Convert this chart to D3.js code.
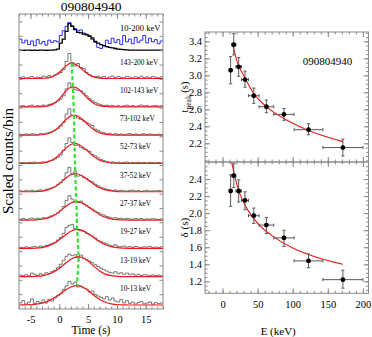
<!DOCTYPE html>
<html><head><meta charset="utf-8">
<script src="https://cdn.jsdelivr.net/npm/d3@7"></script>
<style>
body{margin:0;background:#fff}
svg{display:block}
text{font-family:"Liberation Serif","Times New Roman",serif;fill:#000}
</style></head>
<body><svg width="372" height="337"></svg>
<script>
// ---------------- DATA ----------------
const grbName = "090804940";
const bandNames = ["10-13 keV","13-19 keV","19-27 keV","27-37 keV","37-52 keV","52-73 keV","73-102 keV","102-143 keV","143-200 keV"];
const eLo  = [10,13,19,27,37,52,73,102,143];
const eHi  = [13,19,27,37,52,73,102,143,200];
const eMid = [11.5,16,23,32,44.5,62.5,87.5,122.5,171.5];
const tPeak   = [3.06,3.36,3.10,2.95,2.76,2.63,2.54,2.36,2.15];
const tPeakHi = [3.22,3.49,3.21,3.05,2.85,2.71,2.61,2.43,2.25];
const tPeakLo = [2.90,3.24,2.99,2.86,2.67,2.56,2.47,2.30,2.05];
const delta   = [2.26,2.44,2.26,2.15,1.97,1.86,1.71,1.44,1.22];
const deltaHi = [2.45,2.58,2.39,2.25,2.06,1.95,1.80,1.52,1.33];
const deltaLo = [2.08,2.30,2.13,2.04,1.88,1.76,1.61,1.36,1.12];
const fitTpE = [14.3,20,30,45,60,90,120,171.5];
const fitTpV = [3.37,3.18,3.00,2.78,2.65,2.48,2.36,2.22];
const fitDE  = [13,18,25,35,50,70,100,135,171.5];
const fitDV  = [2.60,2.41,2.22,2.05,1.88,1.74,1.59,1.48,1.40];

const histStart = -7, binWidth = 0.5, modelStart = -7, modelStep = 1;
const timeTicks = [-5,0,5,10,15];
const eTicks = [0,50,100,150,200];
const tpTicks = [2.2,2.4,2.6,2.8,3.0,3.2,3.4];
const dTicks = [1.2,1.4,1.6,1.8,2.0,2.2,2.4];

// top panel: 10-200 keV light curves
const topLabel = "10-200 keV";
const topBlue = [0.42,0.28,0.38,0.22,0.35,0.18,0.40,0.25,0.33,0.20, 0.38,0.30,0.36,0.32,0.55,0.72,0.88,1.02,0.90,0.80,
  0.72,0.75,0.64,0.60,0.55,0.48,0.30,0.12,0.08,0.18, 0.38,0.26,0.45,0.30,0.40,0.22,0.55,0.32,0.42,0.25,
  0.48,0.30,0.38,0.55,0.28,0.45,0.32,0.40,0.25,0.35];
const topBlack = [0.02,0.01,0.02,0.02,0.01,0.02,0.01,0.02,0.02,0.01, 0.02,0.02,0.03,0.06,0.27,0.42,0.70,0.98,0.88,0.76,
  0.66,0.64,0.60,0.57,0.52,0.43,0.34,0.27,0.22,0.18, 0.15,0.12,0.10,0.08,0.06,0.05,0.04,0.03,0.02,0.02,
  0.02,0.02,0.02,0.02,0.02,0.02,0.02,0.02,0.02,0.02];

// band histograms (0.5 s bins from -7 s), ascending energy
const hist = [
 [0.10,0.22,0.05,0.15,0.30,0.08,0.18,0.12,0.25,0.10, 0.28,0.20,0.35,0.45,0.55,0.78,0.95,1.18,1.05,1.15, 0.90,0.95,0.85,0.80,0.65,0.70,0.52,0.45,0.38,0.30, 0.42,0.25,0.35,0.20,0.15,0.28,0.10,0.22,0.08,0.15, 0.05,0.12,0.18,0.06,0.10,0.15,0.04,0.12,0.07,0.10],
 [0.08,0.05,0.10,0.04,0.18,0.12,0.06,0.15,0.10,0.20, 0.16,0.25,0.32,0.45,0.62,0.82,1.02,1.12,1.05,1.10, 0.95,1.08,0.92,0.85,0.78,0.70,0.60,0.50,0.42,0.35, 0.28,0.22,0.18,0.25,0.15,0.20,0.12,0.18,0.10,0.14, 0.08,0.12,0.06,0.10,0.08,0.05,0.09,0.06,0.08,0.04],
 [0.05,0.03,0.08,0.04,0.07,0.10,0.06,0.12,0.09,0.15, 0.18,0.25,0.30,0.42,0.55,0.75,1.05,1.15,1.20,0.98, 0.92,0.88,0.85,0.75,0.68,0.62,0.52,0.40,0.35,0.28, 0.22,0.15,0.12,0.18,0.10,0.08,0.12,0.06,0.09,0.05, 0.10,0.07,0.04,0.08,0.06,0.10,0.05,0.07,0.04,0.08],
 [0.04,0.08,0.03,0.06,0.10,0.05,0.09,0.06,0.12,0.10, 0.16,0.22,0.28,0.35,0.48,0.68,0.98,1.22,1.05,0.92, 0.88,0.95,0.80,0.72,0.62,0.55,0.45,0.38,0.30,0.25, 0.18,0.14,0.10,0.12,0.07,0.09,0.05,0.08,0.06,0.04, 0.07,0.05,0.08,0.03,0.06,0.04,0.07,0.05,0.03,0.06],
 [0.05,0.02,0.07,0.04,0.08,0.03,0.06,0.10,0.05,0.12, 0.15,0.20,0.25,0.35,0.45,0.62,0.95,1.22,0.88,1.00, 0.78,0.82,0.70,0.66,0.55,0.50,0.38,0.30,0.22,0.18, 0.12,0.10,0.06,0.09,0.04,0.07,0.05,0.03,0.06,0.08, 0.04,0.06,0.02,0.05,0.07,0.03,0.05,0.04,0.06,0.03],
 [0.03,0.05,0.02,0.06,0.04,0.07,0.03,0.05,0.08,0.06, 0.12,0.15,0.22,0.30,0.42,0.65,1.00,1.28,1.05,0.90, 0.92,0.80,0.72,0.68,0.60,0.45,0.38,0.28,0.20,0.14, 0.10,0.06,0.08,0.04,0.06,0.03,0.05,0.07,0.02,0.05, 0.04,0.06,0.03,0.05,0.02,0.06,0.04,0.03,0.05,0.02],
 [0.04,0.02,0.06,0.03,0.07,0.05,0.02,0.08,0.06,0.10, 0.12,0.18,0.25,0.32,0.45,0.62,1.05,1.32,1.00,0.95, 0.85,0.78,0.70,0.62,0.55,0.48,0.30,0.25,0.15,0.12, 0.06,0.09,0.04,0.07,0.03,0.06,0.02,0.05,0.08,0.03, 0.06,0.02,0.05,0.07,0.03,0.06,0.04,0.02,0.05,0.03],
 [0.03,0.06,0.01,0.05,0.08,0.02,0.06,0.04,0.09,0.05, 0.12,0.15,0.20,0.28,0.38,0.55,0.90,1.20,0.95,0.88, 0.82,0.80,0.68,0.55,0.42,0.30,0.22,0.15,0.10,0.06, 0.08,0.04,0.07,0.03,0.06,0.02,0.05,0.08,0.03,0.06, 0.02,0.05,0.09,0.04,0.06,0.02,0.05,0.07,0.03,0.05],
 [0.05,0.08,0.02,0.06,0.10,0.03,0.07,0.04,0.12,0.08, 0.15,0.10,0.18,0.22,0.30,0.45,0.85,1.25,0.80,0.62, 0.75,0.55,0.50,0.30,0.18,0.10,0.08,0.12,0.05,0.10, 0.02,0.08,0.12,0.04,0.10,0.06,0.03,0.11,0.07,0.02, 0.09,0.05,0.12,0.04,0.08,0.03,0.10,0.06,0.04,0.08]
];
// pulse model (red), sampled every 1 s from -7 s, ascending energy
const model = [
 [0,0.01,0.02,0.04,0.09,0.19,0.34,0.53,0.74,0.90,0.97,0.90,0.72,0.49,0.28,0.14,0.06,0.02,0.01,0,0,0,0,0,0,0],
 [0,0,0,0.02,0.04,0.11,0.23,0.42,0.65,0.87,0.99,0.96,0.78,0.52,0.29,0.13,0.05,0.02,0,0,0,0,0,0,0,0],
 [0,0,0,0.01,0.04,0.11,0.23,0.43,0.66,0.86,0.95,0.90,0.74,0.53,0.33,0.18,0.09,0.04,0.01,0,0,0,0,0,0,0],
 [0,0,0,0.01,0.04,0.10,0.22,0.42,0.65,0.85,0.92,0.85,0.67,0.46,0.27,0.14,0.06,0.02,0.01,0,0,0,0,0,0,0],
 [0,0,0,0.01,0.03,0.09,0.21,0.41,0.65,0.85,0.90,0.79,0.59,0.38,0.20,0.09,0.04,0.01,0,0,0,0,0,0,0,0],
 [0,0,0,0.01,0.02,0.08,0.21,0.44,0.73,0.95,0.99,0.84,0.59,0.34,0.16,0.07,0.02,0.01,0,0,0,0,0,0,0,0],
 [0,0,0,0,0.02,0.07,0.19,0.43,0.73,0.96,0.98,0.79,0.52,0.27,0.12,0.04,0.01,0,0,0,0,0,0,0,0,0],
 [0,0,0,0,0.01,0.04,0.16,0.40,0.74,0.98,0.95,0.70,0.40,0.17,0.06,0.02,0,0,0,0,0,0,0,0,0,0],
 [0,0,0,0,0.01,0.03,0.11,0.31,0.59,0.77,0.69,0.45,0.22,0.08,0.02,0,0,0,0,0,0,0,0,0,0,0]
];

// ---------------- DRAW ----------------
const svg = d3.select("svg");
const frameCol = "#8a8a8a", tickCol = "#8a8a8a";
const redCol = "#f01818";
const serif = '"Liberation Serif","Times New Roman",serif';

// left panel
const L = {x0:19, x1:163, y0:14, y1:309};
const x = d3.scaleLinear([-7,18],[L.x0,L.x1]);
const rowBase = d3.scaleLinear([0,8],[78.5,305]);   // row 0 = highest energy band
const unitPx = 20;
const yTop = d3.scaleLinear([0,1],[50.7,23]);

svg.append("defs").append("clipPath").attr("id","lc").append("rect")
  .attr("x",L.x0).attr("y",L.y0).attr("width",L.x1-L.x0).attr("height",L.y1-L.y0);
const lp = svg.append("g").attr("clip-path","url(#lc)");

function stepPts(vals){
  const p = vals.map((v,k)=>[histStart+k*binWidth, v]);
  p.push([histStart+vals.length*binWidth, vals[vals.length-1]]);
  return p;
}
const stepLine = (ys)=> d3.line().x(d=>x(d[0])).y(d=>ys(d[1])).curve(d3.curveStepAfter);

// top panel
lp.append("path").attr("d", stepLine(yTop)(stepPts(topBlue)))
  .attr("fill","none").attr("stroke","#2a2aff").attr("stroke-width",1);
lp.append("path").attr("d", stepLine(yTop)(stepPts(topBlack)))
  .attr("fill","none").attr("stroke","#000").attr("stroke-width",1.3);
svg.append("text").attr("x",120).attr("y",30.7).attr("font-size",8.5).text(topLabel);

// bands
const greenPts = [];
hist.forEach((h,j)=>{
  const row = 8-j;
  const base = rowBase(row);
  const ys = d3.scaleLinear([0,1],[base, base-unitPx]);
  lp.append("path").attr("d", stepLine(ys)(stepPts(h)))
    .attr("fill","none").attr("stroke","#555").attr("stroke-width",0.8);
  const mp = model[j].map((v,k)=>[modelStart+k*modelStep, v]);
  lp.append("path").attr("d", d3.line().x(d=>x(d[0])).y(d=>ys(d[1])).curve(d3.curveCatmullRom)(mp))
    .attr("fill","none").attr("stroke",redCol).attr("stroke-width",1.2);
  svg.append("text").attr("x",120).attr("y",base-14).attr("font-size",7.3).text(bandNames[j]);
  greenPts[row] = [x(tPeak[j]), ys(d3.max(model[j]))];
});
lp.append("path").attr("d", d3.line()(greenPts))
  .attr("fill","none").attr("stroke","#33e033").attr("stroke-width",2.2).attr("stroke-dasharray","4,2.5");

// left frame & ticks
svg.append("rect").attr("x",L.x0).attr("y",L.y0).attr("width",L.x1-L.x0).attr("height",L.y1-L.y0)
  .attr("fill","none").attr("stroke",frameCol).attr("stroke-width",1);

function styleAxis(g, fs){
  g.select(".domain").remove();
  g.selectAll("line").attr("stroke",tickCol);
  g.selectAll("text").attr("font-family",serif).attr("font-size",fs).attr("fill","#000")
    .text(function(){return this.textContent.replace("\u2212","-");});
  g.attr("font-family",null).attr("font-size",null);
}
function xAxes(xs, yb, yt, major, minor, labels, fs){
  svg.append("g").attr("transform",`translate(0,${yb})`)
    .call(d3.axisBottom(xs).tickValues(minor).tickSize(-2.5).tickFormat("")).call(g=>styleAxis(g,fs));
  svg.append("g").attr("transform",`translate(0,${yb})`)
    .call(d3.axisBottom(xs).tickValues(major).tickSize(-5).tickPadding(7).tickFormat(labels? d3.format("d"):"")).call(g=>styleAxis(g,fs));
  svg.append("g").attr("transform",`translate(0,${yt})`)
    .call(d3.axisTop(xs).tickValues(minor).tickSize(-2.5).tickFormat("")).call(g=>styleAxis(g,fs));
  svg.append("g").attr("transform",`translate(0,${yt})`)
    .call(d3.axisTop(xs).tickValues(major).tickSize(-5).tickFormat("")).call(g=>styleAxis(g,fs));
}
xAxes(x, L.y1, L.y0, timeTicks, d3.range(-7,19,1), true, 10.5);

// left y ticks
const leftTickYs = d3.range(1,21).map(k=>L.y1-14.35*k).filter(v=>v>L.y0+2);
leftTickYs.forEach(v=>{
  svg.append("line").attr("x1",L.x0).attr("x2",L.x0+3.5).attr("y1",v).attr("y2",v).attr("stroke",tickCol);
  svg.append("line").attr("x1",L.x1).attr("x2",L.x1-3.5).attr("y1",v).attr("y2",v).attr("stroke",tickCol);
});

svg.append("text").attr("x",(L.x0+L.x1)/2).attr("y",10.5).attr("text-anchor","middle").attr("font-size",13.5).text(grbName);
svg.append("text").attr("x",(L.x0+L.x1)/2).attr("y",334).attr("text-anchor","middle").attr("font-size",11.5).text("Time (s)");
svg.append("text").attr("transform",`translate(13,161) rotate(-90)`).attr("text-anchor","middle").attr("font-size",15).text("Scaled counts/bin");

// ---------------- RIGHT PANELS ----------------
const R = {x0:205, x1:368.5};
const P1 = {y0:32, y1:162}, P2 = {y0:162, y1:293.3};
const xE = d3.scaleLinear([-25,208],[R.x0,R.x1]);
const yT = d3.scaleLinear([1.98,3.51],[P1.y1,P1.y0]);
const yD = d3.scaleLinear([1.06,2.6],[P2.y1,P2.y0]);

function yAxes(ys, major, minor){
  svg.append("g").attr("transform",`translate(${R.x0},0)`)
    .call(d3.axisLeft(ys).tickValues(minor).tickSize(-2.5).tickFormat("")).call(g=>styleAxis(g,10.5));
  svg.append("g").attr("transform",`translate(${R.x0},0)`)
    .call(d3.axisLeft(ys).tickValues(major).tickSize(-5).tickPadding(3).tickFormat(d3.format(".1f"))).call(g=>styleAxis(g,10.5));
  svg.append("g").attr("transform",`translate(${R.x1},0)`)
    .call(d3.axisRight(ys).tickValues(minor).tickSize(-2.5).tickFormat("")).call(g=>styleAxis(g,10.5));
  svg.append("g").attr("transform",`translate(${R.x1},0)`)
    .call(d3.axisRight(ys).tickValues(major).tickSize(-5).tickFormat("")).call(g=>styleAxis(g,10.5));
}
const eMinor = d3.range(-20,210,10);
function panel(P, ys, vals, lo, hi, fitE, fitV, major, id){
  svg.append("defs").append("clipPath").attr("id",id).append("rect")
    .attr("x",R.x0).attr("y",P.y0).attr("width",R.x1-R.x0).attr("height",P.y1-P.y0);
  const g = svg.append("g").attr("clip-path",`url(#${id})`);
  g.append("path").attr("d", d3.line().x((d,i)=>xE(fitE[i])).y(d=>ys(d)).curve(d3.curveMonotoneX)(fitV))
    .attr("fill","none").attr("stroke",redCol).attr("stroke-width",1.1);
  const eb = "#5a5a5a";
  vals.forEach((v,i)=>{
    const cx = xE(eMid[i]), cy = ys(v);
    g.append("line").attr("x1",cx).attr("x2",cx).attr("y1",ys(lo[i])).attr("y2",ys(hi[i])).attr("stroke",eb).attr("stroke-width",1);
    [lo[i],hi[i]].forEach(e=>g.append("line").attr("x1",cx-1.6).attr("x2",cx+1.6).attr("y1",ys(e)).attr("y2",ys(e)).attr("stroke",eb));
    g.append("line").attr("x1",xE(eLo[i])).attr("x2",xE(eHi[i])).attr("y1",cy).attr("y2",cy).attr("stroke",eb).attr("stroke-width",1);
    [eLo[i],eHi[i]].forEach(e=>g.append("line").attr("x1",xE(e)).attr("x2",xE(e)).attr("y1",cy-1.6).attr("y2",cy+1.6).attr("stroke",eb));
    g.append("circle").attr("cx",cx).attr("cy",cy).attr("r",2.4).attr("fill","#000");
  });
  svg.append("rect").attr("x",R.x0).attr("y",P.y0).attr("width",R.x1-R.x0).attr("height",P.y1-P.y0)
    .attr("fill","none").attr("stroke",frameCol).attr("stroke-width",1);
  yAxes(ys, major, d3.range(Math.ceil(ys.domain()[0]*20)/20, ys.domain()[1], 0.05));
}
panel(P1, yT, tPeak, tPeakLo, tPeakHi, fitTpE, fitTpV, tpTicks, "c1");
panel(P2, yD, delta, deltaLo, deltaHi, fitDE, fitDV, dTicks, "c2");
xAxes(xE, P1.y1, P1.y0, eTicks, eMinor, false, 10.5);
xAxes(xE, P2.y1, P2.y0, eTicks, eMinor, true, 10.5);

svg.append("text").attr("x",327.5).attr("y",65).attr("text-anchor","middle").attr("font-size",11).text(grbName);
const tl = svg.append("text").attr("transform",`translate(188,${(P1.y0+P1.y1)/2}) rotate(-90)`).attr("text-anchor","middle").attr("font-size",10.5);
tl.append("tspan").text("t");
tl.append("tspan").attr("font-size",7.5).attr("dy",2.5).text("peak");
tl.append("tspan").attr("dy",-2.5).text(" (s)");
svg.append("text").attr("transform",`translate(188,${(P2.y0+P2.y1)/2}) rotate(-90)`).attr("text-anchor","middle").attr("font-size",11).text("\u03b4 (s)");
svg.append("text").attr("x",xE(100)-14.5).attr("y",335).attr("text-anchor","middle").attr("font-size",11).text("E (keV)");
</script></body></html>
